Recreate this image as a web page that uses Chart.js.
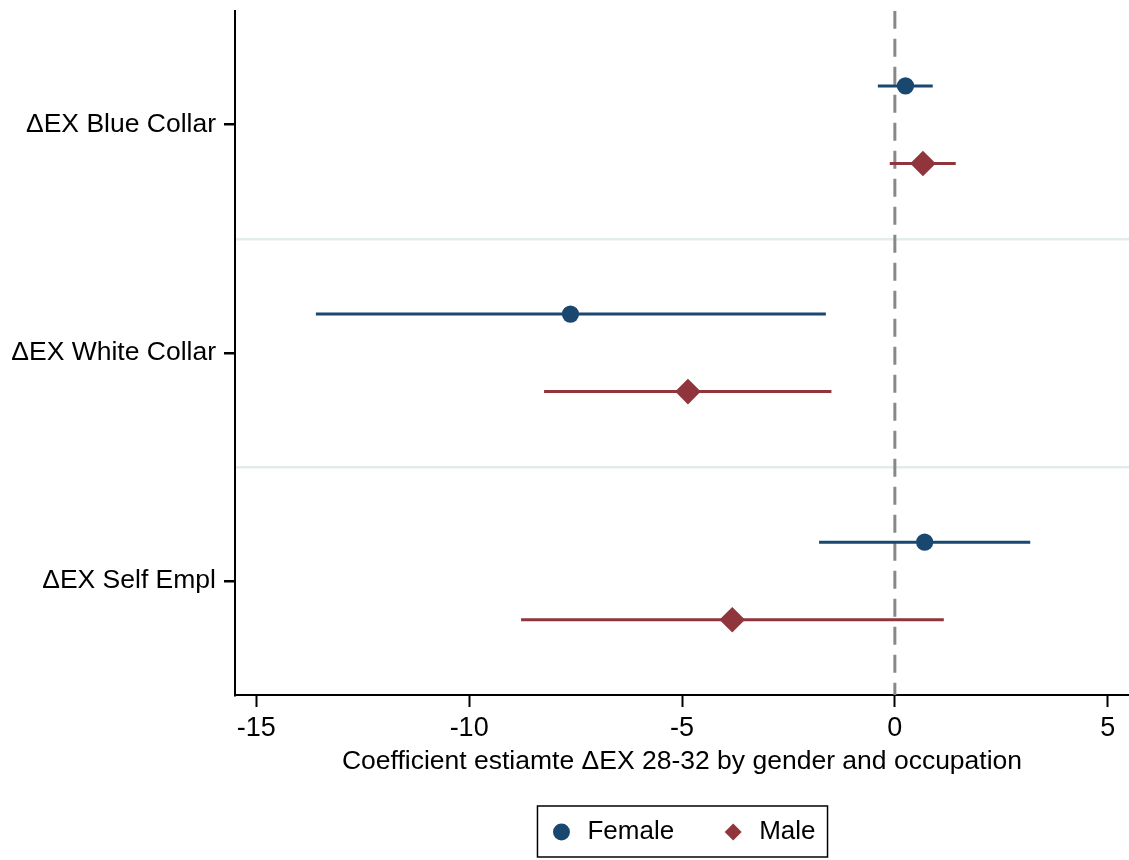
<!DOCTYPE html>
<html>
<head>
<meta charset="utf-8">
<script src="https://cdn.jsdelivr.net/npm/chart.js@4.4.0/dist/chart.umd.min.js"></script>
<style>
  html, body { margin: 0; padding: 0; background: #fff; }
  #wrap { width: 1129px; height: 860px; }
</style>
</head>
<body>
<div id="wrap"><canvas id="myChart"></canvas></div>
<script>
"use strict";

// categories (top to bottom)
var categories = ["\u0394EX Blue Collar", "\u0394EX White Collar", "\u0394EX Self Empl"];
// point estimates and 95% CI
var femaleCoef = [0.25, -7.62, 0.70];
var femaleLow  = [-0.40, -13.60, -1.78];
var femaleHigh = [0.89, -1.62, 3.18];
var maleCoef   = [0.66, -4.86, -3.82];
var maleLow    = [-0.12, -8.24, -8.78];
var maleHigh   = [1.43, -1.49, 1.15];
var xTicks = [-15, -10, -5, 0, 5];

var navy = '#1a476f';
var maroon = '#90353b';
var offset = 0.17;
var font = "'Liberation Sans', Arial, sans-serif";

function points(vals, off) {
    return categories.map(function (c, i) { return { x: vals[i], y: i + off }; });
}
function ciSegments(lo, hi, off) {
    var out = [];
    categories.forEach(function (c, i) {
        out.push({ x: lo[i], y: i + off });
        out.push({ x: hi[i], y: i + off });
        out.push({ x: NaN, y: NaN });
    });
    return out;
}

// border round the legend, like the stata one
var legendBox = {
    id: 'legendBox',
    afterDraw: function (chart) {
        var hb = chart.legend.legendHitBoxes;
        if (!hb || !hb.length) return;
        var first = hb[0], last = hb[hb.length - 1];
        var cy = first.top + first.height / 2;
        var left = first.left - 11;
        var right = last.left + last.width + 12;
        var ctx = chart.ctx;
        ctx.save();
        ctx.strokeStyle = '#000';
        ctx.lineWidth = 1.5;
        ctx.strokeRect(left, cy - 26, right - left, 51);
        ctx.restore();
    }
};

var ctx = document.getElementById("myChart");
var myChart = new Chart(ctx, {
    type: 'scatter',
    data: {
        datasets: [{
            label: 'Female',
            data: points(femaleCoef, -offset),
            pointStyle: 'circle',
            pointRadius: 8.6,
            pointBackgroundColor: navy,
            pointBorderColor: navy,
            pointBorderWidth: 0,
            backgroundColor: navy,
            borderColor: navy,
            order: 0
        }, {
            label: 'Male',
            data: points(maleCoef, offset),
            pointStyle: 'rectRot',
            pointRadius: 12.8,
            pointBackgroundColor: maroon,
            pointBorderColor: maroon,
            pointBorderWidth: 0,
            backgroundColor: maroon,
            borderColor: maroon,
            order: 0
        }, {
            label: 'ci',
            data: ciSegments(femaleLow, femaleHigh, -offset),
            showLine: true,
            spanGaps: false,
            borderColor: navy,
            borderWidth: 3,
            pointRadius: 0,
            order: 1
        }, {
            label: 'ci',
            data: ciSegments(maleLow, maleHigh, offset),
            showLine: true,
            spanGaps: false,
            borderColor: maroon,
            borderWidth: 3,
            pointRadius: 0,
            order: 1
        }, {
            label: 'zero',
            data: [{ x: 0, y: -0.5 }, { x: 0, y: 2.5 }],
            showLine: true,
            borderColor: '#888888',
            borderWidth: 3,
            borderDash: [18, 10],
            pointRadius: 0,
            order: 2
        }]
    },
    options: {
        responsive: true,
        maintainAspectRatio: false,
        animation: { duration: 0 },
        layout: { autoPadding: false, padding: { top: 10, right: 0, left: 0, bottom: 5 } },
        plugins: {
            tooltip: { enabled: false },
            legend: {
                position: 'bottom',
                fullSize: false,
                labels: {
                    filter: function (item) { return item.text === 'Female' || item.text === 'Male'; },
                    usePointStyle: true,
                    boxWidth: 26,
                    boxHeight: 12,
                    padding: 46,
                    color: '#000',
                    font: { family: font, size: 26 }
                }
            }
        },
        scales: {
            x: {
                type: 'linear',
                min: -15.5,
                max: 5.5,
                afterBuildTicks: function (scale) {
                    scale.ticks = [-15.5].concat(xTicks, [5.5]).map(function (v) { return { value: v }; });
                },
                afterFit: function (scale) { scale.height = 78; },
                ticks: {
                    color: '#000',
                    padding: 5,
                    autoSkip: false,
                    maxRotation: 0,
                    font: { family: font, size: 27 },
                    callback: function (v) {
                        return xTicks.indexOf(v) >= 0 ? String(v) : null;
                    }
                },
                grid: {
                    drawOnChartArea: false,
                    tickLength: 12,
                    tickColor: '#000',
                    tickWidth: 2
                },
                border: { color: '#000', width: 2 },
                title: {
                    display: true,
                    text: 'Coefficient estiamte \u0394EX 28-32 by gender and occupation',
                    color: '#000',
                    padding: { top: 0, bottom: -5 },
                    font: { family: font, size: 26.5 }
                }
            },
            y: {
                type: 'linear',
                reverse: true,
                min: -0.5,
                max: 2.5,
                afterBuildTicks: function (scale) {
                    scale.ticks = [-0.5, 0, 0.5, 1, 1.5, 2, 2.5].map(function (v) { return { value: v }; });
                },
                afterFit: function (scale) { scale.width = 235; },
                ticks: {
                    color: '#000',
                    padding: 8,
                    autoSkip: false,
                    // small line height keeps chart.js from reserving room above the top tick
                    font: { family: font, size: 26.5, lineHeight: 0.2 },
                    callback: function (v) {
                        if (v === -0.5 || v === 2.5) return null;
                        return Number.isInteger(v) ? categories[v] : '';
                    }
                },
                grid: {
                    drawOnChartArea: true,
                    tickLength: 11,
                    lineWidth: 2.5,
                    color: function (c) {
                        var v = c.tick ? c.tick.value : null;
                        return (v === 0.5 || v === 1.5) ? '#e3ebec' : 'rgba(0,0,0,0)';
                    },
                    tickColor: function (c) {
                        var v = c.tick ? c.tick.value : null;
                        return Number.isInteger(v) ? '#000' : 'rgba(0,0,0,0)';
                    }
                },
                border: { color: '#000', width: 2 }
            }
        }
    },
    plugins: [legendBox]
});
</script>
</body>
</html>
